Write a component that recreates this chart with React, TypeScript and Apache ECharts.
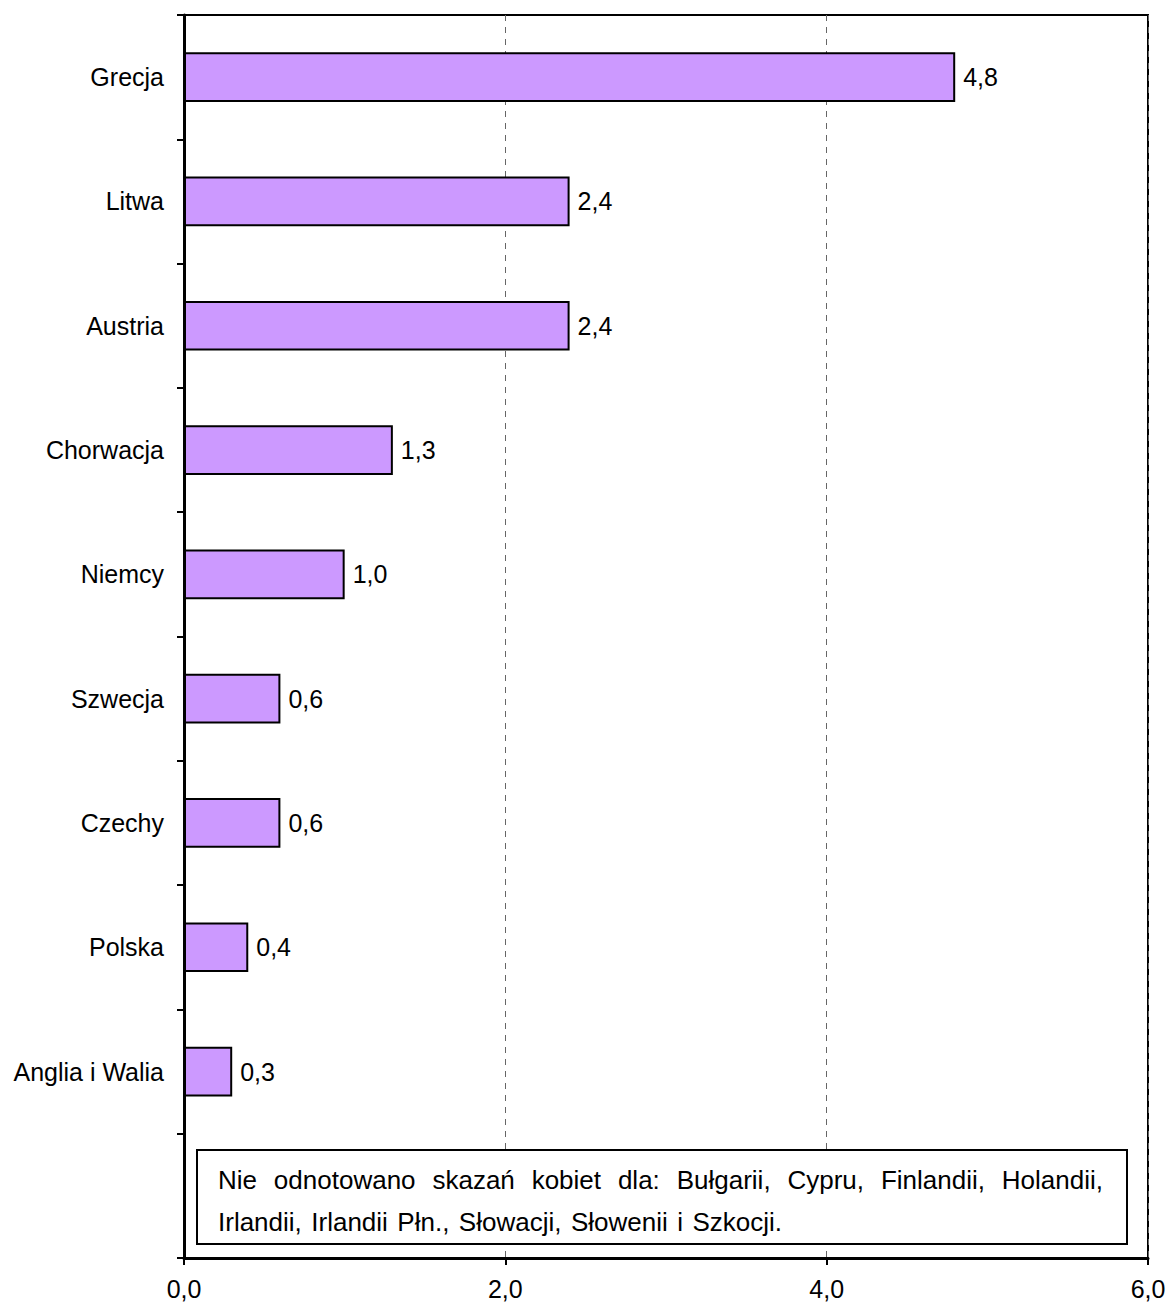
import React, { useEffect, useRef } from "react";
import * as echarts from "echarts";

const categories = [
  "Grecja",
  "Litwa",
  "Austria",
  "Chorwacja",
  "Niemcy",
  "Szwecja",
  "Czechy",
  "Polska",
  "Anglia i Walia",
  "",
];
const values: (number | null)[] = [4.8, 2.4, 2.4, 1.3, 1.0, 0.6, 0.6, 0.4, 0.3, null];
const xTicks = [0, 2, 4, 6];
const noteLine1 = "Nie odnotowano skazań kobiet dla: Bułgarii, Cypru, Finlandii, Holandii,";
const noteLine2 = "Irlandii, Irlandii Płn., Słowacji, Słowenii i Szkocji.";

const FONT = '"Liberation Sans", Arial, sans-serif';
const FS = 25;
const NOTE_FS = 26;
const fmt = (v: number) => v.toFixed(1).replace(".", ",");

export default function App() {
  const ref = useRef<HTMLDivElement>(null);
  useEffect(() => {
    document.body.style.margin = "0";
    if (!ref.current) return;
    const chart = echarts.init(ref.current, null, { renderer: "svg" });

    const canvas = document.createElement("canvas");
    const ctx = canvas.getContext("2d")!;
    ctx.font = `${NOTE_FS}px "Liberation Sans", Arial, sans-serif`;

    const justify = (line: string, startX: number, endX: number, y: number) => {
      const words = line.split(" ");
      const widths = words.map((w) => ctx.measureText(w).width);
      const total = widths.reduce((a, b) => a + b, 0);
      const gap = Math.max(5, (endX - startX - total) / (words.length - 1));
      let cx = startX;
      return words.map((w, i) => {
        const el = {
          type: "text",
          x: cx,
          y,
          z: 110,
          style: {
            text: w,
            fill: "#000",
            fontSize: NOTE_FS,
            fontFamily: FONT,
            verticalAlign: "middle",
            align: "left",
          },
        };
        cx += widths[i] + gap;
        return el;
      });
    };

    const noteEls: any[] = [
      ...justify(noteLine1, 218, 1103, 1180),
      ...justify(noteLine2, 218, 782, 1222),
    ];

    chart.setOption({
      animation: false,
      grid: {
        left: 184,
        right: 22,
        top: 15,
        bottom: 49,
        show: true,
        borderColor: "#000",
        borderWidth: 2,
        containLabel: false,
      },
      xAxis: {
        type: "value",
        min: 0,
        max: 6,
        interval: 2,
        axisLine: { show: true, lineStyle: { color: "#000", width: 3 } },
        axisTick: { show: true, length: 7, lineStyle: { color: "#000", width: 2 } },
        axisLabel: {
          formatter: (v: number) => (xTicks.includes(v) ? fmt(v) : ""),
          fontSize: FS,
          fontFamily: FONT,
          color: "#000",
          margin: 18,
        },
        splitLine: {
          show: true,
          lineStyle: { color: "#666", type: [6, 6], width: 1 },
        },
      },
      yAxis: {
        type: "category",
        data: categories,
        inverse: true,
        axisLine: { show: true, lineStyle: { color: "#000", width: 3 } },
        axisTick: { show: true, length: 7, alignWithLabel: false, lineStyle: { color: "#000", width: 2 } },
        axisLabel: {
          fontSize: FS,
          fontFamily: FONT,
          color: "#000",
          margin: 20,
          interval: 0,
        },
        splitLine: { show: false },
      },
      series: [
        {
          type: "bar",
          data: values,
          barWidth: "40%",
          itemStyle: { color: "#cc99ff", borderColor: "#000", borderWidth: 2 },
          label: {
            show: true,
            position: "right",
            distance: 8,
            formatter: (p: any) => (p.value == null ? "" : fmt(p.value)),
            fontSize: FS,
            fontFamily: FONT,
            color: "#000",
          },
        },
      ],
      graphic: [
        {
          type: "rect",
          z: 100,
          shape: { x: 197, y: 1150, width: 930, height: 94 },
          style: { fill: "#fff", stroke: "#000", lineWidth: 2 },
        },
        ...noteEls,
      ],
    });
    return () => chart.dispose();
  }, []);
  return <div ref={ref} style={{ width: 1170, height: 1307 }} />;
}
